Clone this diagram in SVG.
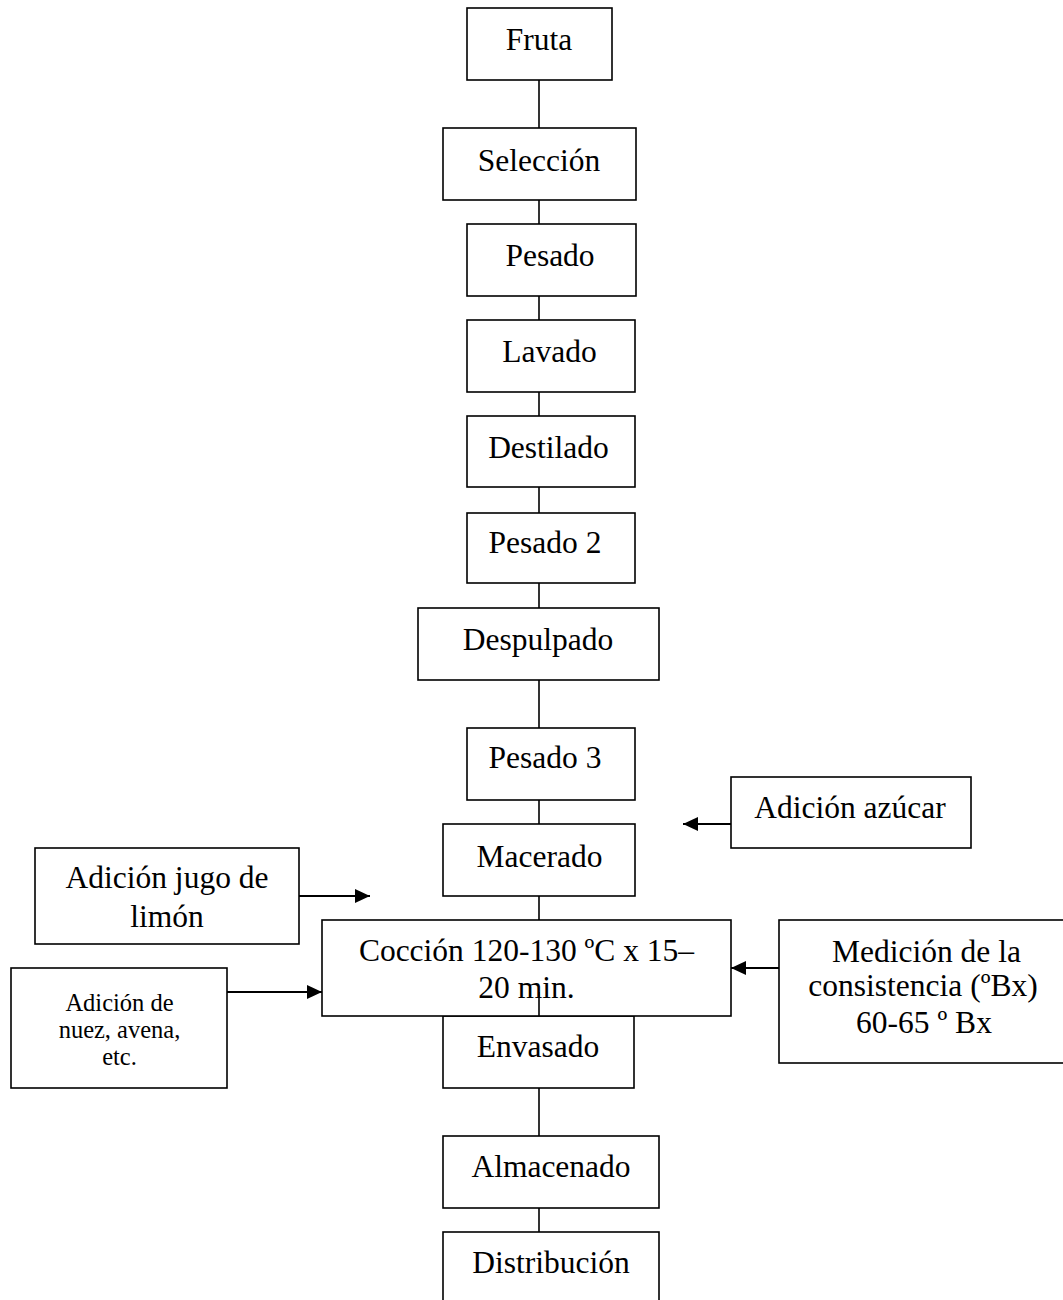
<svg xmlns="http://www.w3.org/2000/svg" width="1063" height="1300" viewBox="0 0 1063 1300">
  <style>
    .box { fill: #ffffff; stroke: #000000; stroke-width: 1.6; }
    .t { font-family: "Liberation Serif", "Times New Roman", serif; font-size: 31.5px; fill: #000000; text-anchor: middle; }
    .s { font-family: "Liberation Serif", "Times New Roman", serif; font-size: 24.5px; fill: #000000; text-anchor: middle; }
    .link { stroke: #000000; stroke-width: 1.6; fill: none; }
    .flow { stroke: #000000; stroke-width: 2; fill: none; marker-end: url(#head); }
  </style>
  <defs>
    <marker id="head" markerUnits="userSpaceOnUse" markerWidth="15" markerHeight="14" refX="15" refY="7" orient="auto">
      <path d="M0,0 L15,7 L0,14 z" fill="#000000"/>
    </marker>
  </defs>
  <rect width="1063" height="1300" fill="#ffffff"/>

  <!-- main process steps -->
  <g id="fruta"><rect class="box" x="467" y="8" width="145" height="72"/><text class="t" x="539" y="50">Fruta</text></g>
  <g id="seleccion"><rect class="box" x="443" y="128" width="193" height="72"/><text class="t" x="539" y="171">Selección</text></g>
  <g id="pesado"><rect class="box" x="467" y="224" width="169" height="72"/><text class="t" x="550" y="266">Pesado</text></g>
  <g id="lavado"><rect class="box" x="467" y="320" width="168" height="72"/><text class="t" x="549.5" y="362">Lavado</text></g>
  <g id="destilado"><rect class="box" x="467" y="416" width="168" height="71"/><text class="t" x="548.5" y="458">Destilado</text></g>
  <g id="pesado2"><rect class="box" x="467" y="513" width="168" height="70"/><text class="t" x="545" y="553">Pesado 2</text></g>
  <g id="despulpado"><rect class="box" x="418" y="608" width="241" height="72"/><text class="t" x="538" y="650">Despulpado</text></g>
  <g id="pesado3"><rect class="box" x="467" y="728" width="168" height="72"/><text class="t" x="545" y="768">Pesado 3</text></g>
  <g id="macerado"><rect class="box" x="443" y="824" width="192" height="72"/><text class="t" x="539.5" y="867">Macerado</text></g>
  <g id="envasado"><rect class="box" x="443" y="1016" width="191" height="72"/><text class="t" x="538" y="1057">Envasado</text></g>
  <g id="coccion"><rect class="box" x="322" y="920" width="409" height="96"/>
    <text class="t" x="526.5" y="961">Cocción 120-130 ºC x 15–</text>
    <text class="t" x="526.5" y="998">20 min.</text></g>
  <g id="almacenado"><rect class="box" x="443" y="1136" width="216" height="72"/><text class="t" x="551" y="1177">Almacenado</text></g>
  <g id="distribucion"><rect class="box" x="443" y="1232" width="216" height="80"/><text class="t" x="551" y="1273">Distribución</text></g>

  <!-- side inputs -->
  <g id="azucar"><rect class="box" x="731" y="777" width="240" height="71"/><text class="t" x="850" y="818">Adición azúcar</text></g>
  <g id="limon"><rect class="box" x="35" y="848" width="264" height="96"/>
    <text class="t" x="167" y="888">Adición jugo de</text>
    <text class="t" x="167" y="927">limón</text></g>
  <g id="nuez"><rect class="box" x="11" y="968" width="216" height="120"/>
    <text class="s" x="119.5" y="1011">Adición de</text>
    <text class="s" x="119.5" y="1038">nuez, avena,</text>
    <text class="s" x="119.5" y="1065">etc.</text></g>
  <g id="medicion"><rect class="box" x="779" y="920" width="292" height="143"/>
    <text class="t" x="926.5" y="962">Medición de la</text>
    <text class="t" x="923" y="996">consistencia (ºBx)</text>
    <text class="t" x="924" y="1033">60-65 º Bx</text></g>

  <!-- connectors -->
  <g id="connectors">
    <line class="link" x1="539" y1="80" x2="539" y2="128"/>
    <line class="link" x1="539" y1="200" x2="539" y2="224"/>
    <line class="link" x1="539" y1="296" x2="539" y2="320"/>
    <line class="link" x1="539" y1="392" x2="539" y2="416"/>
    <line class="link" x1="539" y1="487" x2="539" y2="513"/>
    <line class="link" x1="539" y1="583" x2="539" y2="608"/>
    <line class="link" x1="539" y1="680" x2="539" y2="728"/>
    <line class="link" x1="539" y1="800" x2="539" y2="824"/>
    <line class="link" x1="539" y1="896" x2="539" y2="920"/>
    <line class="link" x1="539" y1="992" x2="539" y2="1016"/>
    <line class="link" x1="539" y1="1088" x2="539" y2="1136"/>
    <line class="link" x1="539" y1="1208" x2="539" y2="1232"/>
    <line class="flow" x1="299" y1="896" x2="370" y2="896"/>
    <line class="flow" x1="227" y1="992" x2="322" y2="992"/>
    <line class="flow" x1="731" y1="824" x2="683" y2="824"/>
    <line class="flow" x1="779" y1="968" x2="731" y2="968"/>
  </g>
</svg>
